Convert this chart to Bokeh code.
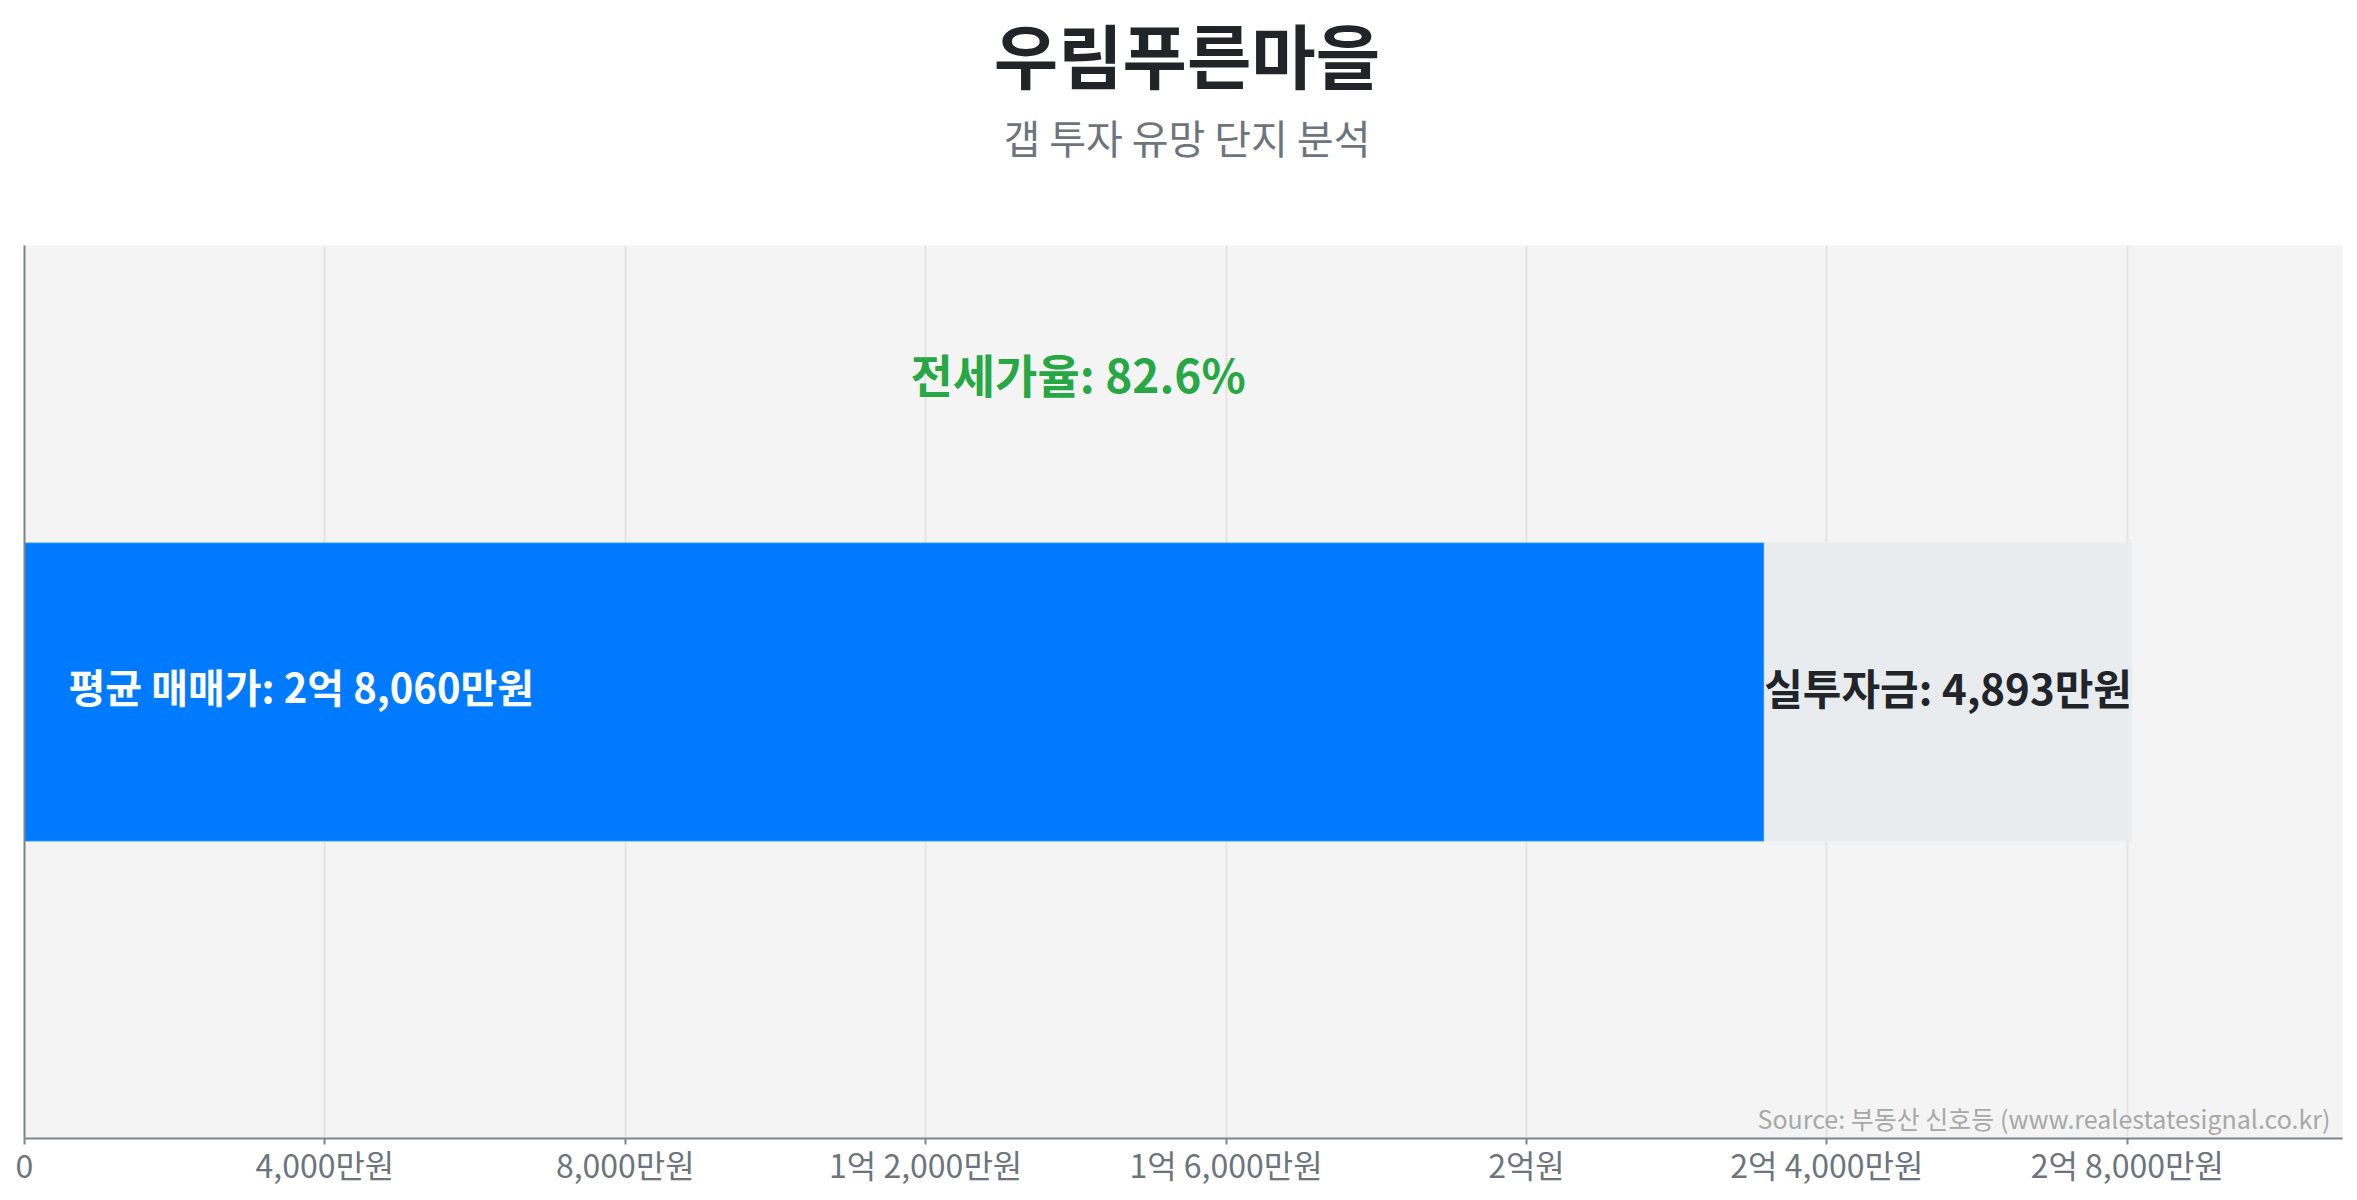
from bokeh.plotting import figure
from bokeh.layouts import column
from bokeh.models import Range1d, FixedTicker, Label, ColumnDataSource
from bokeh.core.properties import value
from bokeh.embed import file_html
from bokeh.resources import INLINE

# ---- data ----
title_text = "우림푸른마을"
subtitle_text = "갭 투자 유망 단지 분석"
sale_price = 28060          # 평균 매매가 (만원)
actual_investment = 4893    # 실투자금 (만원)
jeonse_ratio = 82.6         # 전세가율 (%)
tick_values = [0, 4000, 8000, 12000, 16000, 20000, 24000, 28000]
tick_labels = ["0", "4,000만원", "8,000만원", "1억 2,000만원", "1억 6,000만원",
               "2억원", "2억 4,000만원", "2억 8,000만원"]
sale_label = "평균 매매가: 2억 8,060만원"
invest_label = "실투자금: 4,893만원"
ratio_label = "전세가율: 82.6%"
source_text = "Source: 부동산 신호등 (www.realestatesignal.co.kr)"

FONT = "Noto Sans CJK KR"
jeonse_part = sale_price - actual_investment
x_max = sale_price * 1.1

W = 2349
HEAD = 245
H = 1192 - HEAD
BL, BR, BB = 24, 7, 54
TITLE_PX = 70

# ---- header (title + subtitle) drawn in pixel space ----
head = figure(width=W, height=HEAD, output_backend="svg", toolbar_location=None,
              x_range=Range1d(0, W), y_range=Range1d(0, HEAD),
              min_border=0, min_border_left=0, min_border_right=0,
              min_border_top=0, min_border_bottom=0)
head.title.visible = False
head.axis.visible = False
head.grid.visible = False
head.outline_line_color = None
head.background_fill_color = "white"
head.border_fill_color = "white"
head.text(x=[1178], y=[HEAD - 53], text=[title_text],
          text_align="center", text_baseline="middle", text_font=value(FONT),
          text_font_style="bold", text_font_size=f"{TITLE_PX}px", text_color="#212529")
head.text(x=[1178], y=[HEAD - 136], text=[subtitle_text], text_align="center",
          text_baseline="middle", text_font=value(FONT), text_font_size="40px",
          text_color="#6c757d")

# ---- main chart ----
p = figure(width=W, height=H, output_backend="svg", toolbar_location=None,
           x_range=Range1d(0, x_max), y_range=Range1d(-1.5, 1.5),
           min_border_left=BL, min_border_right=BR, min_border_bottom=BB,
           min_border_top=0)
p.title.visible = False
p.background_fill_color = "#f4f4f4"
p.border_fill_color = "white"
p.outline_line_color = None

src = ColumnDataSource(dict(y=[0], jeonse=[jeonse_part], total=[sale_price]))
p.hbar(y="y", left=0, right="jeonse", height=1, color="#007bff", source=src)
p.hbar(y="y", left="jeonse", right="total", height=1, color="#e9ecef", source=src)

p.text(x=[0], y=[0], text=[sale_label], x_offset=44, y_offset=-6, text_align="left",
       text_baseline="middle", text_color="white", text_font=value(FONT),
       text_font_style="bold", text_font_size="40px")
p.text(x=[(jeonse_part + sale_price) / 2], y=[0], text=[invest_label], y_offset=-6,
       text_align="center", text_baseline="middle", text_color="#212529",
       text_font=value(FONT), text_font_style="bold", text_font_size="42px")
p.text(x=[sale_price / 2], y=[1.07], text=[ratio_label], text_align="center",
       text_baseline="middle", text_color="#28a745", text_font=value(FONT),
       text_font_style="bold", text_font_size="46px")

p.add_layout(Label(x=x_max, y=-1.5, text=source_text, text_align="right",
                   text_baseline="bottom", x_offset=-12, y_offset=3,
                   text_font=FONT, text_font_size="25px", text_color="#a8a8a8"))

xa = p.xaxis[0]
xa.ticker = FixedTicker(ticks=tick_values)
xa.major_label_overrides = {v: l for v, l in zip(tick_values, tick_labels)}
xa.major_label_text_font = FONT
xa.major_label_text_font_size = "32px"
xa.major_label_text_color = "#6c757d"
xa.axis_line_color = "#7d848b"
xa.axis_line_width = 2
xa.major_tick_line_color = "#7d848b"
xa.major_tick_line_width = 2
xa.major_tick_in = 0
xa.major_tick_out = 6
xa.minor_tick_line_color = None
xa.major_label_standoff = -4

ya = p.yaxis[0]
ya.ticker = FixedTicker(ticks=[])
ya.axis_line_color = "#7d848b"
ya.axis_line_width = 2
ya.major_tick_line_color = None
ya.minor_tick_line_color = None
ya.major_label_text_font_size = "0px"

p.xgrid.grid_line_color = "#e4e4e4"
p.xgrid.grid_line_width = 2
p.ygrid.grid_line_color = None

layout = column(head, p, spacing=0)
open("out.html", "w").write(file_html(layout, INLINE))
